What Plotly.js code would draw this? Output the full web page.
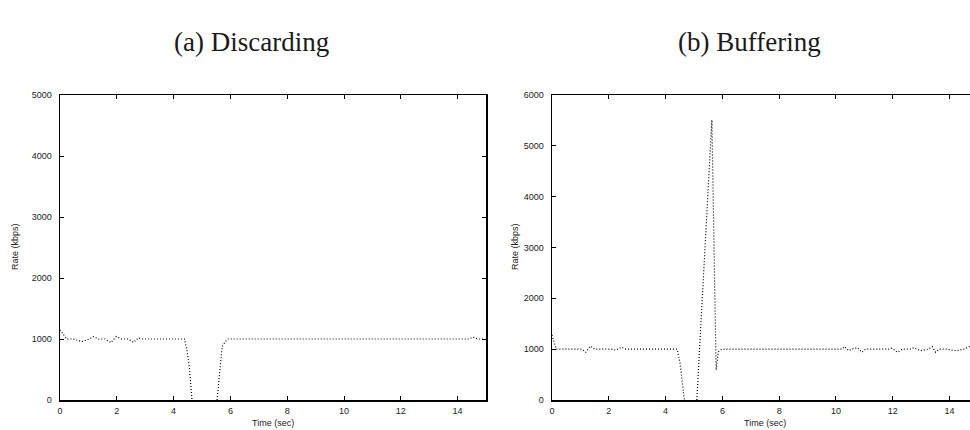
<!DOCTYPE html>
<html>
<head>
<meta charset="utf-8">
<script src="https://cdn.plot.ly/plotly-3.0.1.min.js"></script>
<style>html,body{margin:0;padding:0;background:#fff;overflow:hidden}#chart{width:970px;height:430px}</style>
</head>
<body>
<div id="chart"></div>
<script>
// (a) Discarding
var timeDiscard = [0, 0.24, 0.47, 0.76, 1.0, 1.18, 1.35, 1.59, 1.79, 1.98, 2.18, 2.41, 2.59, 2.76, 2.88, 4.38, 4.47, 4.55, 4.65, 5.1, 5.53, 5.71, 5.82, 5.91, 14.4, 14.55, 14.7, 14.9];
var rateDiscard = [1150, 1000, 1000, 956, 995, 1040, 1000, 1000, 940, 1040, 1000, 1000, 945, 1020, 1000, 1000, 820, 550, 0, null, 0, 875, 955, 1000, 1000, 1030, 1000, 1000];
// (b) Buffering
var timeBuffer = [0, 0.15, 1.05, 1.19, 1.35, 1.5, 2.1, 2.25, 2.45, 2.6, 4.41, 4.51, 4.66, 4.9, 5.1, 5.63, 5.78, 5.86, 5.98, 10.21, 10.3, 10.45, 10.6, 10.75, 10.92, 11.04, 11.85, 11.98, 12.16, 12.33, 12.6, 12.74, 12.98, 13.15, 13.25, 13.39, 13.51, 13.63, 13.92, 14.1, 14.27, 14.5, 14.74];
var rateBuffer = [1280, 1000, 1000, 940, 1060, 1000, 1000, 980, 1040, 1000, 1000, 720, 0, null, 0, 5510, 590, 950, 1000, 1000, 1050, 970, 1010, 1030, 940, 1000, 1000, 1020, 940, 1000, 1000, 1030, 970, 990, 1000, 1050, 940, 1000, 1000, 980, 970, 1000, 1060];

var panelTitles = ['(a) Discarding', '(b) Buffering'];
var xTitle = 'Time (sec)';
var yTitle = 'Rate (kbps)';
var xTicks = [0, 2, 4, 6, 8, 10, 12, 14];
var yTicksA = [0, 1000, 2000, 3000, 4000, 5000];
var yTicksB = [0, 1000, 2000, 3000, 4000, 5000, 6000];

var W = 970, H = 430;
function px(x){ return x / W; }
function py(y){ return (H - y) / H; }

var lineStyle = {color: '#000', width: 1.2, dash: '1px,2px'};
var traces = [
  {x: timeDiscard, y: rateDiscard, type: 'scatter', mode: 'lines', line: lineStyle, connectgaps: false, xaxis: 'x', yaxis: 'y', hoverinfo: 'skip'},
  {x: timeBuffer, y: rateBuffer, type: 'scatter', mode: 'lines', line: lineStyle, connectgaps: false, xaxis: 'x2', yaxis: 'y2', hoverinfo: 'skip'}
];

var tickFont = {family: 'Liberation Sans, Arial, sans-serif', size: 9, color: '#222'};
var titleFont = {family: 'Liberation Serif, serif', size: 27, color: '#1a1a1a'};
function xax(domain, range, mirror){
  return {domain: domain, range: range, tickvals: xTicks, ticks: 'inside', ticklen: 4, tickwidth: 1, tickcolor: '#000',
    showline: true, linecolor: '#000', linewidth: 1.5, mirror: mirror, showgrid: false, zeroline: false,
    tickfont: tickFont, ticklabelstandoff: 2, fixedrange: true};
}
function yax(domain, range, ticks, anchor, mirror){
  return {domain: domain, range: range, tickvals: ticks, ticks: 'inside', ticklen: 4, tickwidth: 1, tickcolor: '#000',
    showline: true, linecolor: '#000', linewidth: 1.5, mirror: mirror, showgrid: false, zeroline: false,
    tickfont: tickFont, ticklabelstandoff: 5, anchor: anchor, fixedrange: true};
}

var yDom = [py(400), py(95)];
var layout = {
  width: W, height: H,
  margin: {l: 0, r: 0, t: 0, b: 0, pad: 0},
  paper_bgcolor: '#fff', plot_bgcolor: '#fff',
  showlegend: false,
  xaxis: xax([px(60), px(486)], [0, 15], 'ticks'),
  yaxis: yax(yDom, [0, 5000], yTicksA, 'x', 'ticks'),
  xaxis2: Object.assign(xax([px(552), 1], [0, 14.72], 'ticks'), {anchor: 'y2'}),
  yaxis2: yax(yDom, [0, 6000], yTicksB, 'x2', false),
  annotations: [
    {text: panelTitles[0], xref: 'paper', yref: 'paper', x: px(251), y: py(42), showarrow: false, xanchor: 'center', yanchor: 'middle', font: titleFont},
    {text: panelTitles[1], xref: 'paper', yref: 'paper', x: px(749), y: py(42), showarrow: false, xanchor: 'center', yanchor: 'middle', font: titleFont},
    {text: xTitle, xref: 'paper', yref: 'paper', x: px(273), y: py(423), showarrow: false, xanchor: 'center', yanchor: 'middle', font: tickFont},
    {text: xTitle, xref: 'paper', yref: 'paper', x: px(765), y: py(423), showarrow: false, xanchor: 'center', yanchor: 'middle', font: tickFont},
    {text: yTitle, xref: 'paper', yref: 'paper', x: px(15), y: py(247), textangle: -90, showarrow: false, xanchor: 'center', yanchor: 'middle', font: tickFont},
    {text: yTitle, xref: 'paper', yref: 'paper', x: px(515), y: py(247), textangle: -90, showarrow: false, xanchor: 'center', yanchor: 'middle', font: tickFont}
  ]
};

Plotly.newPlot('chart', traces, layout, {displayModeBar: false, staticPlot: true});
</script>
</body>
</html>
